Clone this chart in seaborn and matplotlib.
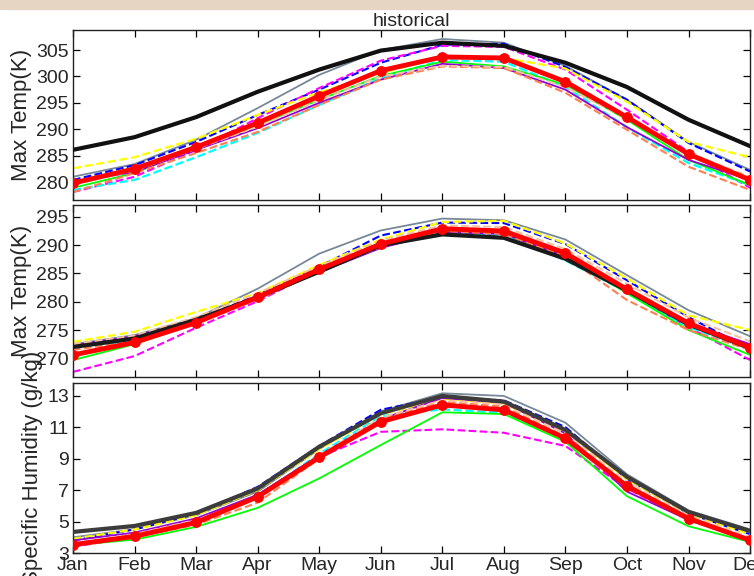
import matplotlib
matplotlib.use("Agg")
import matplotlib.pyplot as plt
import seaborn as sns
from matplotlib.patches import Rectangle

# mois
months = ['Jan', 'Feb', 'Mar', 'Apr', 'May', 'Jun', 'Jul', 'Aug', 'Sep', 'Oct', 'Nov', 'Dec']
mnum = list(range(1, 13))

# panneau 1 : Max Temp (K)
p1_black = [286.1, 288.5, 292.3, 297.1, 301.3, 304.9, 306.4, 305.8, 302.6, 298.0, 291.8, 286.8]
p1_gray = [281.0, 283.4, 288.0, 294.0, 300.3, 305.0, 307.1, 306.4, 302.0, 295.6, 287.6, 282.3]
p1_blue = [280.4, 283.2, 287.6, 292.7, 297.5, 302.6, 306.0, 306.2, 301.8, 295.6, 287.4, 282.0]
p1_magenta = [278.1, 281.0, 286.1, 292.1, 297.8, 303.0, 305.8, 305.6, 301.3, 293.7, 285.7, 278.9]
p1_yellow = [282.6, 284.7, 288.2, 292.7, 297.0, 300.6, 303.7, 303.5, 301.5, 295.2, 287.6, 284.7]
p1_cyan = [278.5, 280.4, 284.7, 289.3, 294.6, 299.7, 303.1, 302.8, 298.0, 290.4, 283.6, 279.4]
p1_green = [278.9, 281.7, 286.5, 290.8, 295.6, 300.1, 302.8, 301.9, 298.4, 291.8, 284.2, 279.4]
p1_purple = [280.0, 281.9, 286.1, 290.2, 295.0, 299.4, 302.4, 301.6, 297.5, 290.4, 284.2, 280.4]
p1_coral = [278.1, 281.7, 285.5, 289.5, 294.6, 299.4, 301.9, 301.6, 296.9, 289.9, 282.9, 278.5]
p1_peach = [279.5, 282.2, 286.3, 290.5, 295.5, 300.0, 302.0, 301.8, 298.0, 292.0, 285.5, 281.0]
p1_red = [279.8, 282.5, 286.6, 291.2, 296.3, 301.1, 303.7, 303.5, 299.0, 292.3, 285.3, 280.4]

# panneau 2 : Max Temp (K)
p2_black = [272.0, 273.5, 276.8, 280.8, 285.3, 290.0, 291.9, 291.3, 287.6, 282.0, 276.0, 271.8]
p2_gray = [272.5, 274.1, 277.1, 282.3, 288.5, 292.6, 294.7, 294.4, 291.0, 284.7, 278.5, 273.9]
p2_blue = [272.0, 273.5, 276.8, 281.2, 286.2, 291.7, 294.0, 293.9, 290.2, 283.8, 277.3, 271.6]
p2_magenta = [267.6, 270.4, 275.4, 280.1, 285.5, 290.0, 292.3, 292.0, 288.0, 281.8, 275.5, 269.7]
p2_yellow = [272.9, 274.7, 278.2, 281.5, 286.5, 291.0, 294.1, 294.3, 290.3, 284.1, 277.6, 275.0]
p2_cyan = [272.0, 273.0, 276.5, 280.5, 285.3, 289.8, 292.2, 291.8, 287.3, 281.7, 275.5, 271.6]
p2_green = [269.7, 272.5, 276.3, 280.6, 285.5, 289.8, 292.5, 292.1, 288.1, 281.5, 275.0, 270.6]
p2_purple = [272.3, 273.9, 276.9, 280.7, 285.2, 289.5, 292.3, 292.0, 288.0, 282.0, 276.2, 272.5]
p2_coral = [271.5, 273.0, 276.2, 280.4, 285.3, 289.7, 292.5, 292.0, 288.0, 280.3, 275.0, 271.5]
p2_peach = [272.5, 274.0, 277.3, 281.5, 286.3, 290.8, 293.5, 293.2, 289.3, 283.2, 277.2, 273.0]
p2_red = [270.6, 272.8, 276.3, 280.8, 285.7, 290.2, 292.9, 292.5, 288.6, 282.2, 276.2, 271.9]

# panneau 3 : Specific Humidity (g/kg)
p3_black = [4.34, 4.72, 5.55, 7.10, 9.75, 11.88, 12.98, 12.62, 10.82, 7.84, 5.61, 4.40]
p3_gray = [4.0, 4.5, 5.4, 6.9, 9.6, 12.0, 13.15, 12.98, 11.28, 8.0, 5.7, 4.5]
p3_blue = [3.8, 4.5, 5.5, 7.2, 9.8, 12.1, 12.9, 12.7, 11.0, 7.7, 5.5, 4.2]
p3_magenta = [3.4, 4.0, 5.0, 6.7, 9.1, 10.7, 10.86, 10.64, 9.8, 7.1, 5.1, 3.8]
p3_yellow = [3.9, 4.5, 5.4, 7.0, 9.6, 11.8, 12.8, 12.5, 10.7, 7.7, 5.5, 4.2]
p3_cyan = [3.6, 4.1, 4.9, 6.6, 9.3, 11.7, 12.13, 11.9, 10.3, 7.4, 5.3, 3.9]
p3_green = [3.5, 3.85, 4.66, 5.87, 7.74, 9.86, 11.94, 11.83, 10.07, 6.61, 4.7, 3.7]
p3_purple = [3.8, 4.3, 5.2, 6.7, 9.2, 11.5, 12.85, 12.55, 10.6, 6.9, 5.1, 3.9]
p3_coral = [3.5, 4.0, 4.8, 6.2, 9.0, 11.5, 12.6, 12.3, 10.4, 7.3, 5.3, 3.9]
p3_peach = [3.6, 4.2, 5.1, 6.5, 9.2, 11.6, 12.7, 12.45, 10.6, 7.5, 5.4, 4.0]
p3_red = [3.53, 4.06, 4.94, 6.57, 9.08, 11.34, 12.41, 12.09, 10.29, 7.25, 5.19, 3.81]

ylabels = ['Max Temp(K)', 'Max Temp(K)', 'Specific Humidity (g/kg)']
ylims = [(276.6, 308.8), (266.7, 297.1), (3.0, 13.8)]
yticks = [[280, 285, 290, 295, 300, 305], [270, 275, 280, 285, 290, 295], [3, 5, 7, 9, 11, 13]]

# style de chaque courbe : couleur, type de trait, épaisseur
styles = {
    'gray': ('#778899', '-', 1.3),
    'blue': ('#0000FF', '--', 1.5),
    'magenta': ('#FF00FF', '--', 1.5),
    'yellow': ('#FFFF00', '--', 1.6),
    'cyan': ('#00FFFF', '--', 1.6),
    'green': ('#00FF00', '-', 1.3),
    'purple': ('#9400D3', '-', 1.3),
    'coral': ('#FF7F50', '--', 1.5),
    'peach': ('#F4C2A0', '--', 1.5),
}

panels = [
    {'gray': p1_gray, 'blue': p1_blue, 'magenta': p1_magenta, 'yellow': p1_yellow, 'cyan': p1_cyan,
     'green': p1_green, 'purple': p1_purple, 'coral': p1_coral, 'peach': p1_peach},
    {'gray': p2_gray, 'blue': p2_blue, 'magenta': p2_magenta, 'yellow': p2_yellow, 'cyan': p2_cyan,
     'green': p2_green, 'purple': p2_purple, 'coral': p2_coral, 'peach': p2_peach},
    {'gray': p3_gray, 'blue': p3_blue, 'magenta': p3_magenta, 'yellow': p3_yellow, 'cyan': p3_cyan,
     'green': p3_green, 'purple': p3_purple, 'coral': p3_coral, 'peach': p3_peach},
]
obs = [p1_black, p2_black, p3_black]
obs_colors = ['#111111', '#1a1a1a', '#3c3c3c']
means = [p1_red, p2_red, p3_red]

sns.set_style("white")
plt.rcParams['font.family'] = ['Liberation Sans', 'DejaVu Sans']

fig = plt.figure(figsize=(7.54, 5.76), dpi=100)
fig.patches.append(Rectangle((0, 1 - 9 / 576), 1, 9 / 576, transform=fig.transFigure,
                             color='#E6D5C3', zorder=0))

# positions des axes (fraction de la figure)
boxes = [(0.0968, 0.6528, 0.898, 0.2951),
         (0.0968, 0.3455, 0.898, 0.2986),
         (0.0968, 0.0399, 0.898, 0.2951)]

for i in range(3):
    ax = fig.add_axes(boxes[i])
    for name, vals in panels[i].items():
        c, ls, lw = styles[name]
        sns.lineplot(x=mnum, y=vals, ax=ax, color=c, linestyle=ls, linewidth=lw, zorder=2)
    sns.lineplot(x=mnum, y=obs[i], ax=ax, color=obs_colors[i], linewidth=3.0, zorder=3)
    sns.lineplot(x=mnum, y=means[i], ax=ax, color='#FF0000', linewidth=3.5, marker='o',
                 markersize=7, markeredgecolor='#FF0000', zorder=4)

    ax.set_xlim(1, 12)
    ax.set_ylim(*ylims[i])
    ax.set_yticks(yticks[i])
    ax.set_xticks(mnum)
    if i == 2:
        ax.set_xticklabels(months)
    else:
        ax.set_xticklabels([])
    ax.set_xlabel('')
    ax.set_ylabel(ylabels[i], fontsize=16, labelpad=3)
    ax.tick_params(direction='in', length=5, width=0.9, color='black', top=True, right=True,
                   labelsize=14, pad=3, left=True, bottom=True)
    for s in ax.spines.values():
        s.set_color('#222222')
        s.set_linewidth(1.0)
    if i == 0:
        ax.set_title('historical', fontsize=14, pad=3)

fig.savefig('out.png', dpi=100)
